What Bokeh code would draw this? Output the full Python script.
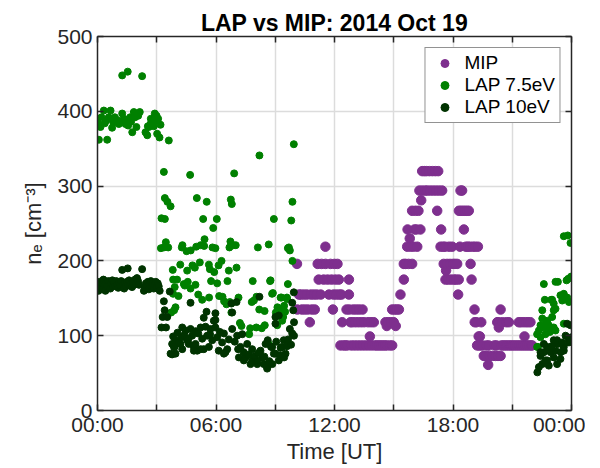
from bokeh.plotting import figure
from bokeh.models import FixedTicker, LinearAxis, Legend, LegendItem, Range1d
from bokeh.embed import file_html
from bokeh.resources import INLINE

# ---------------- data (hours UT on 2014-10-19, n_e in cm^-3) ----------------
mip_hours = [10.10, 10.12, 10.20, 10.30, 10.35, 10.45, 10.50, 10.60, 10.65, 10.75, 10.80, 10.85, 10.95, 11.00,
             11.10, 11.15, 11.20, 11.30, 11.35, 11.45, 11.54, 11.55, 11.65, 11.72, 11.80, 11.85, 11.92, 11.95,
             12.00, 12.05, 12.10, 12.15, 12.22, 12.25, 12.30, 12.35, 12.39, 12.45, 12.55, 12.61, 12.65, 12.73,
             12.73, 12.75, 12.81, 12.85, 12.90, 12.95, 13.00, 13.05, 13.10, 13.15, 13.20, 13.25, 13.30, 13.35,
             13.42, 13.45, 13.50, 13.60, 13.70, 13.75, 13.79, 13.85, 13.90, 13.99, 14.05, 14.15, 14.25, 14.35,
             14.45, 14.55, 14.58, 14.65, 14.65, 14.72, 14.80, 14.85, 14.92, 14.92, 15.00, 15.05, 15.10, 15.15,
             15.26, 15.34, 15.51, 15.51, 15.60, 15.68, 15.70, 15.75, 15.81, 15.85, 15.93, 15.93, 16.00, 16.05,
             16.10, 16.15, 16.19, 16.25, 16.30, 16.35, 16.39, 16.44, 16.45, 16.55, 16.60, 16.65, 16.70, 16.80,
             16.85, 16.95, 17.00, 17.10, 17.15, 17.20, 17.25, 17.30, 17.37, 17.40, 17.45, 17.50, 17.53, 17.60,
             17.62, 17.65, 17.70, 17.75, 17.80, 17.85, 17.90, 17.96, 18.00, 18.05, 18.10, 18.15, 18.21, 18.26,
             18.29, 18.30, 18.35, 18.38, 18.40, 18.46, 18.50, 18.55, 18.60, 18.65, 18.70, 18.75, 18.80, 18.85,
             18.89, 18.94, 19.00, 19.09, 19.10, 19.12, 19.19, 19.22, 19.26, 19.30, 19.31, 19.36, 19.40, 19.43,
             19.50, 19.56, 19.65, 19.70, 19.78, 19.81, 19.85, 20.00, 20.10, 20.15, 20.20, 20.24, 20.28, 20.30,
             20.32, 20.41, 20.41, 20.45, 20.50, 20.55, 20.65, 20.70, 20.75, 20.83, 20.85, 20.95, 21.05, 21.15,
             21.25, 21.33, 21.35, 21.42, 21.45, 21.55, 21.55, 21.62, 21.65, 21.68, 21.75, 21.80, 21.85, 21.92,
             21.95, 22.01]
mip_ne = [196, 135, 155, 155, 135, 155, 135, 155, 135, 118, 155, 135, 155, 135,
          155, 196, 175, 155, 196, 175, 219, 196, 175, 155, 196, 175, 135, 155,
          196, 175, 155, 196, 175, 155, 87, 155, 118, 87, 87, 135, 87, 175,
          155, 135, 118, 87, 118, 135, 87, 118, 135, 87, 118, 135, 87, 118,
          135, 87, 118, 87, 118, 87, 99, 118, 87, 118, 87, 87, 87, 87,
          87, 87, 118, 87, 113, 118, 87, 118, 87, 135, 118, 135, 113, 135,
          135, 155, 175, 196, 196, 219, 242, 196, 230, 219, 196, 267, 219, 242,
          267, 242, 219, 267, 294, 242, 281, 320, 294, 320, 294, 320, 294, 320,
          294, 320, 294, 320, 294, 267, 320, 294, 219, 242, 294, 219, 196, 219,
          175, 187, 196, 175, 219, 196, 175, 219, 196, 175, 196, 175, 196, 155,
          175, 267, 219, 294, 267, 294, 267, 242, 267, 219, 267, 219, 267, 219,
          196, 175, 219, 135, 118, 219, 118, 87, 219, 99, 87, 99, 87, 118,
          87, 73, 73, 87, 61, 87, 73, 73, 87, 73, 87, 118, 73, 118,
          111, 73, 135, 87, 118, 87, 87, 118, 87, 118, 87, 87, 87, 87,
          87, 118, 87, 118, 87, 87, 118, 99, 87, 118, 87, 118, 87, 118,
          87, 87]

lap75_hours = [0.03, 0.07, 0.15, 0.20, 0.32, 0.37, 0.45, 0.49, 0.57, 0.66, 0.74, 0.80, 0.88, 1.00, 1.08, 1.15,
               1.25, 1.25, 1.33, 1.42, 1.50, 1.53, 1.55, 1.65, 1.70, 1.76, 1.84, 1.90, 1.97, 2.06, 2.14, 2.26,
               2.43, 2.52, 2.55, 2.60, 2.68, 2.70, 2.80, 2.85, 2.90, 2.95, 2.99, 3.02, 3.07, 3.14, 3.19, 3.61,
               3.36, 4.69, 6.92, 8.20, 9.94,
               3.41, 3.54, 3.70, 5.03, 5.53, 6.75, 6.80, 9.87,
               3.24, 3.41, 5.35, 6.04, 5.86, 8.93, 9.81,
               3.46, 3.21, 3.36, 3.58, 4.30, 4.27, 4.51, 4.72, 5.00, 5.22, 5.42, 5.40, 5.82, 5.97, 6.73, 6.87,
               7.00, 6.68, 8.12, 8.67, 9.74, 9.64, 9.69, 9.87,
               3.81, 4.19, 4.54, 4.81, 4.93, 5.18, 5.64, 5.69, 5.91, 6.13, 6.28, 6.65, 7.04,
               3.83, 4.03, 3.91, 4.37, 4.57, 4.96, 4.42, 4.71, 5.75, 6.06, 6.58, 7.86, 8.74, 8.76, 9.64,
               3.83, 4.10, 5.10, 5.30, 5.65, 6.16, 6.33, 6.41, 6.53, 6.70, 7.14, 6.78, 8.84,
               3.95, 3.73, 3.88,
               7.81, 7.92, 8.05, 8.19, 8.46, 8.88, 9.11, 9.32, 9.59, 9.03, 9.30, 9.40, 9.10, 8.47, 8.32,
               8.04, 7.68, 7.73, 7.21, 7.29, 8.66, 9.20, 9.45, 9.50, 9.35, 9.27, 9.60,
               23.61, 23.81, 23.95, 23.98, 23.83, 23.75, 22.60, 23.19, 23.31, 22.65, 23.02, 23.44, 23.61,
               23.78, 23.53, 23.87, 23.70, 22.52, 23.10, 23.02, 22.52, 22.73, 22.85, 23.10, 22.60, 22.35,
               22.43, 22.68, 22.90, 23.19, 23.61, 22.26, 22.97, 23.10, 23.19, 22.77, 22.43, 22.85, 22.26,
               22.30]
lap75_ne = [385, 362, 379, 392, 401, 384, 388, 362, 392, 401, 378, 385, 392, 388, 383, 386,
            397, 448, 390, 383, 388, 453, 381, 392, 386, 372, 399, 392, 379, 394, 399, 447,
            372, 368, 380, 379, 383, 390, 388, 380, 397, 388, 394, 370, 390, 365, 382, 361,
            319, 315, 317, 341, 356,
            284, 279, 273, 284, 279, 282, 276, 279,
            257, 256, 256, 256, 244, 256, 254,
            225, 217, 218, 218, 221, 218, 213, 214, 219, 221, 229, 220, 218, 217, 226, 221,
            221, 218, 218, 222, 214, 217, 218, 200,
            188, 195, 187, 194, 191, 198, 195, 189, 185, 194, 200, 187, 191,
            175, 175, 165, 169, 172, 168, 167, 163, 173, 170, 173, 173, 173, 174, 169,
            156, 153, 155, 148, 151, 153, 152, 146, 142, 145, 151, 131, 156,
            138, 131, 134,
            145, 147, 152, 135, 133, 157, 138, 151, 151, 131, 134, 125, 114, 114, 110,
            111, 102, 110, 117, 113, 89, 136, 140, 132, 120, 151, 149,
            233, 234, 224, 179, 176, 174, 169, 172, 172, 148, 148, 154, 156,
            151, 147, 145, 149, 134, 134, 125, 123, 118, 111, 111, 111, 107,
            98, 102, 105, 107, 116, 102, 148, 143, 136, 120, 114, 114, 85,
            85]

lap10_hours = [0.00, 0.05, 0.10, 0.15, 0.20, 0.25, 0.30, 0.35, 0.40, 0.45, 0.50, 0.55, 0.60, 0.65, 0.70, 0.75,
               0.80, 0.85, 0.90, 0.95, 1.00, 1.05, 1.10, 1.15, 1.20, 1.25, 1.30, 1.35, 1.40, 1.45, 1.50, 1.53,
               1.55, 1.60, 1.65, 1.70, 1.75, 1.80, 1.85, 1.90, 1.95, 2.00, 2.05, 2.10, 2.26, 2.35, 2.40, 2.45,
               2.50, 2.55, 2.60, 2.65, 2.70, 2.75, 2.80, 2.85, 2.90, 2.95, 3.00, 3.05, 3.10, 3.15,
               3.36, 3.66, 3.30, 3.40, 3.53, 3.24, 3.47,
               3.83, 3.95, 3.78, 3.90, 4.12, 3.78, 3.95,
               4.29, 4.46, 4.71, 4.96, 5.22, 5.47, 5.72, 5.97, 5.89, 5.38, 5.97,
               4.25, 4.54, 4.79, 4.96, 5.30, 5.55, 5.81, 6.06, 6.31, 6.57,
               4.29, 4.62, 4.88, 5.05, 5.38, 5.64, 6.14, 6.40,
               6.40, 6.82, 6.82, 7.07, 7.24, 7.49, 7.83, 8.09, 8.34, 8.59, 8.84, 9.01, 9.18, 9.35, 9.52,
               8.20, 9.01, 9.94, 9.86, 9.91, 9.18, 9.01, 9.74, 9.86,
               7.33, 7.12, 7.58, 7.83, 8.25, 8.51, 8.62, 8.79, 9.27, 9.60, 9.43, 8.93, 8.59, 7.75, 7.16,
               7.41, 8.09, 8.42,
               3.70, 3.87, 4.20, 4.88, 5.22, 6.48,
               4.71, 5.52, 6.78, 7.04, 5.97,
               4.05, 4.40, 4.60, 5.10, 5.70, 6.20, 6.65, 6.95, 7.40, 7.65, 7.95, 8.15, 8.45, 8.70, 8.85,
               9.05, 9.25, 9.45, 9.65, 9.80, 9.95, 9.95,
               23.95, 23.10, 23.31, 23.61, 23.87, 24.00, 22.77, 22.60, 22.43, 22.94, 23.10, 23.44, 22.77,
               22.52, 22.35, 22.27, 22.85, 23.27, 22.68, 23.19, 23.61, 23.87, 23.78, 22.43, 22.60, 23.27,
               23.53, 23.70, 23.45, 23.00]
lap10_ne = [168, 160, 172, 165, 170, 163, 175, 168, 160, 171, 166, 173, 168, 163, 170, 174,
            166, 171, 167, 173, 168, 164, 171, 167, 173, 188, 168, 163, 171, 166, 172, 190,
            168, 174, 167, 170, 165, 171, 168, 175, 170, 177, 173, 168, 189, 160, 165, 170,
            167, 172, 162, 168, 173, 166, 170, 163, 168, 172, 165, 170, 166, 160,
            146, 159, 125, 134, 125, 111, 111,
            99, 94, 89, 85, 91, 75, 76,
            111, 107, 109, 106, 111, 112, 109, 111, 120, 124, 130,
            98, 94, 100, 89, 96, 100, 94, 98, 91, 82,
            82, 89, 85, 80, 82, 85, 80, 76,
            103, 109, 131, 100, 85, 71, 67, 62, 71, 58, 85, 76, 67, 85, 76,
            152, 125, 158, 144, 134, 127, 116, 109, 103,
            102, 82, 89, 82, 80, 89, 94, 85, 84, 86, 94, 76, 56, 62, 71,
            67, 67, 62,
            76, 85, 89, 80, 82, 78,
            144, 132, 143, 145, 121,
            104, 101, 96, 103, 102, 105, 95, 92, 78, 75, 73, 77, 72, 66, 62,
            92, 74, 71, 95, 88, 100, 118,
            114, 94, 89, 85, 94, 98, 85, 78, 73, 78, 71, 69, 67,
            62, 58, 51, 60, 62, 67, 80, 80, 91, 116, 78, 89, 94,
            91, 100, 78, 86]

x_ticks = [0, 3, 6, 9, 12, 15, 18, 21, 24]
x_tick_labels = ["00:00", "", "06:00", "", "12:00", "", "18:00", "", "00:00"]
y_ticks = [0, 100, 200, 300, 400, 500]

MIP_COLOR = "#7E2F8E"
LAP75_COLOR = "#008000"
LAP10_COLOR = "#003300"
AXIS_COLOR = "#262626"
FONT = "Liberation Sans"

p = figure(frame_width=474, frame_height=374, output_backend="svg", toolbar_location=None,
           x_range=Range1d(0, 24), y_range=Range1d(0, 500),
           min_border_left=97, min_border_right=14, min_border_top=36, min_border_bottom=40,
           title="LAP vs MIP: 2014 Oct 19")
p.outline_line_color = None
p.background_fill_color = "white"
p.border_fill_color = "white"

p.title.align = "center"
p.title.text_font = FONT
p.title.text_font_size = "23px"
p.title.text_font_style = "bold"
p.title.text_color = "black"
p.title.standoff = 2
p.title.offset = 0

labels = {t: l for t, l in zip(x_ticks, x_tick_labels)}


def style_axis(ax, show_labels):
    ax.axis_line_color = AXIS_COLOR
    ax.axis_line_width = 1.5
    ax.major_tick_line_color = AXIS_COLOR
    ax.major_tick_line_width = 1.5
    ax.major_tick_in = 6
    ax.major_tick_out = 0
    ax.minor_tick_line_color = None
    ax.major_label_text_font = FONT
    ax.major_label_text_color = AXIS_COLOR
    ax.axis_label_text_font = FONT
    ax.axis_label_text_font_style = "normal"
    ax.axis_label_text_color = AXIS_COLOR
    if show_labels:
        ax.major_label_text_font_size = "21px"
        ax.axis_label_text_font_size = "22px"
    else:
        ax.major_label_text_font_size = "0px"
        ax.major_label_standoff = 0


p.xaxis.ticker = FixedTicker(ticks=x_ticks)
p.xaxis.major_label_overrides = labels
p.yaxis.ticker = FixedTicker(ticks=y_ticks)
style_axis(p.xaxis[0], True)
style_axis(p.yaxis[0], True)
p.xaxis.axis_label = "Time [UT]"
p.yaxis.axis_label = "nₑ [cm⁻³]"
p.xaxis.major_label_standoff = 2
p.xaxis.axis_label_standoff = 0
p.yaxis.major_label_standoff = 5
p.yaxis.axis_label_standoff = 8

top_ax = LinearAxis(ticker=FixedTicker(ticks=x_ticks))
top_ax.major_label_overrides = {t: "" for t in x_ticks}
style_axis(top_ax, False)
p.add_layout(top_ax, "above")
right_ax = LinearAxis(ticker=FixedTicker(ticks=y_ticks))
right_ax.major_label_overrides = {t: "" for t in y_ticks}
style_axis(right_ax, False)
p.add_layout(right_ax, "right")

p.xgrid.grid_line_color = "#dcdcdc"
p.ygrid.grid_line_color = "#dcdcdc"
p.xgrid.grid_line_width = 1.5
p.ygrid.grid_line_width = 1.5

r_mip = p.scatter(mip_hours, mip_ne, size=9.5, color=MIP_COLOR, line_color=MIP_COLOR)
r_75 = p.scatter(lap75_hours, lap75_ne, size=7, color=LAP75_COLOR, line_color=LAP75_COLOR)
r_10 = p.scatter(lap10_hours, lap10_ne, size=7, color=LAP10_COLOR, line_color=LAP10_COLOR)

legend = Legend(items=[LegendItem(label="MIP", renderers=[r_mip]),
                       LegendItem(label="LAP 7.5eV", renderers=[r_75]),
                       LegendItem(label="LAP 10eV", renderers=[r_10])],
                location="top_right", margin=11, padding=4, spacing=0,
                label_text_font=FONT, label_text_font_size="19px", label_text_color="black",
                label_height=20, glyph_height=20, glyph_width=30,
                border_line_color=AXIS_COLOR, border_line_width=1.5,
                background_fill_color="white", background_fill_alpha=1.0)
p.add_layout(legend)

open("out.html", "w").write(file_html(p, INLINE))
